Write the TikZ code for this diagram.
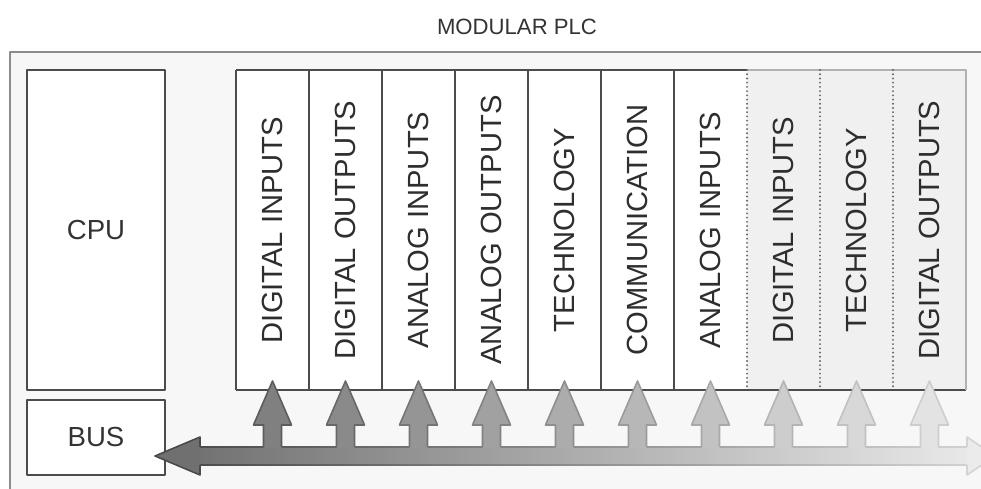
\documentclass[tikz,border=0pt]{standalone}
\usepackage{fontspec}
\setmainfont{Liberation Sans}
\usetikzlibrary{calc}
\begin{document}
\begin{tikzpicture}[x=0.02cm, y=-0.02cm, line join=round,
    box/.style={draw=black!70, fill=white, line width=0.9pt, inner sep=0pt,
      minimum width=2.76cm, text=black!80, font=\fontsize{15.7}{17}\selectfont},
    module/.style={inner sep=0pt, outer sep=0pt, minimum width=1.46cm, minimum height=6.4cm},
    modlabel/.style={rotate=90, text=black!82, font=\fontsize{16.6}{18}\selectfont},
    edge/.style={black!70, line width=0.9pt}]
  \useasboundingbox (0,0) rectangle (981,489);
  % Outer frame, cut at the right and the bottom.
  \draw[black!45, fill=black!3, line width=0.9pt] (10,52) rectangle (1010,530);
  \node[text=black!80, font=\fontsize{12.6}{14}\selectfont] (title) at (517,27) {MODULAR PLC};
  \node[box, minimum height=6.4cm] (cpu) at (96,230) {CPU};
  \node[box, minimum height=1.5cm] (bus) at (96,437.5) {BUS};
  % Modules; the last three are spare slots.
  \foreach \name [count=\i, evaluate=\i as \tint using {(\i<8) ? 0 : 6}] in
      {DIGITAL INPUTS, DIGITAL OUTPUTS, ANALOG INPUTS, ANALOG OUTPUTS, TECHNOLOGY,
       COMMUNICATION, ANALOG INPUTS, DIGITAL INPUTS, TECHNOLOGY, DIGITAL OUTPUTS} {
    \node[module, fill=black!\tint] (m\i) at ({236+73*\i-36.5}, 230) {};
    \node[modlabel] (l\i) at (m\i) {\name};
  }
  \draw[edge] (m1.north west) -- (m7.north east);
  \draw[edge] (m1.south west) -- (m10.south east);
  \foreach \i in {1,...,7}
    \draw[edge] (m\i.north west) -- (m\i.south west);
  \draw[edge, black!30] (m7.north east) -- (m10.north east) -- (m10.south east);
  \foreach \i in {8,9,10}
    \draw[black!60, line width=1.2pt, line cap=round, dash pattern=on 0pt off 2.4pt]
      (m\i.north west) -- (m\i.south west);
  % Bus arrow, fading to the right.
  \coordinate (bl) at (155,456);
  \coordinate (br) at (995,456);
  \shade[left color=black!55, right color=black!9] (200,447) rectangle (967,465);
  \shade[left color=black!70, right color=black!18] (200,446.2) rectangle (967,447.8);
  \shade[left color=black!70, right color=black!18] (200,464.2) rectangle (967,465.8);
  \filldraw[fill=black!56, draw=black!71, line width=0.9pt]
    (200,447) -- (200,437) -- (bl) -- (200,475) -- (200,465);
  \filldraw[fill=black!8, draw=black!17, line width=0.9pt]
    (967,447) -- (967,437) -- (br) -- (967,475) -- (967,465);
  % Branches up to the modules.
  \foreach \i in {1,...,10} {
    \pgfmathsetmacro\t{(236+73*\i-36.5-155)/826}
    \pgfmathsetmacro\p{57-49*\t}
    \pgfmathsetmacro\q{72-56*\t}
    \coordinate (t\i) at ($(m\i.south)+(0,-9)$);
    \fill[black!\p] (t\i) -- ++(19,44) -- ++(-10,0) -- ++(0,23.5) -- ++(-18,0)
      -- ++(0,-23.5) -- ++(-10,0) -- cycle;
    \draw[black!\q, line width=0.9pt] ($(t\i)+(-9,66)$) -- ++(0,-22) -- ++(-10,0)
      -- (t\i) -- ++(19,44) -- ++(-10,0) -- ++(0,22);
  }
\end{tikzpicture}
\end{document}
